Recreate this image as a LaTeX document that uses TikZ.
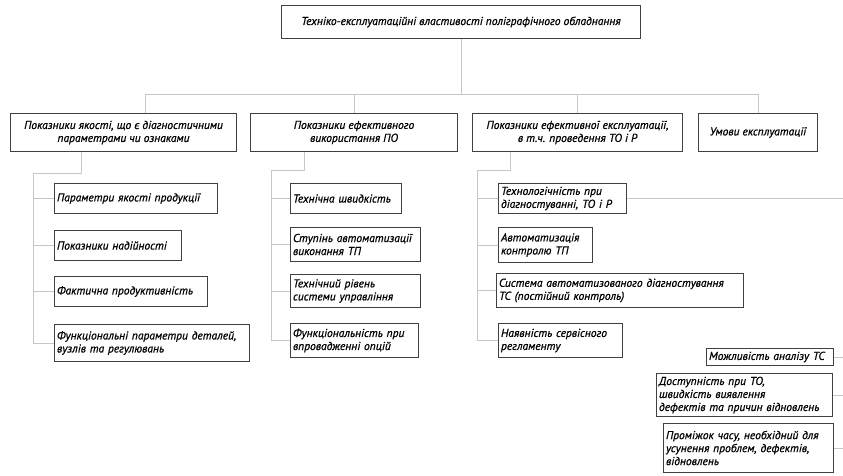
\documentclass[tikz,border=0pt]{standalone}
\usepackage{fontspec}
\setmainfont{PT Sans}[ItalicFeatures={FakeBold=0.8}]
\usepackage{tikz}
\usetikzlibrary{positioning}

\tikzset{
    blk/.style={draw=black!75, line width=1pt, anchor=north west, inner xsep=2.5pt, inner ysep=1pt, font=\fontsize{11.5}{13}\selectfont\itshape},
    grp/.style={blk, align=center},
    leaf/.style={blk, align=left},
    link/.style={draw=black!22, line width=.6pt}
}

\begin{document}
\begin{tikzpicture}[x=1pt, y=-1pt]
            \useasboundingbox (0,0) rectangle (843,475);
            \node [grp, minimum width=359pt, minimum height=33pt] (top) at (281,5) {Техніко-експлуатаційні властивості поліграфічного обладнання};
            % рівень 1
            \node [grp, minimum width=226pt, minimum height=38pt] (g1) at (10,113) {Показники якості, що є діагностичними\\параметрами чи ознаками};
            \node [grp, minimum width=207pt, minimum height=38pt] (g2) at (250,113) {Показники ефективного\\використання ПО};
            \node [grp, minimum width=210pt, minimum height=38pt] (g3) at (472,113) {Показники ефективної експлуатації,\\в т.ч. проведення ТО і Р};
            \node [grp, minimum width=119pt, minimum height=38pt] (g4) at (698,113) {Умови експлуатації};
            % гілка 1
            \node [leaf, text width=158pt, minimum height=30pt] (c11) at (54,183) {Параметри якості продукції};
            \node [leaf, text width=122pt, minimum height=30pt] (c12) at (54,230) {Показники надійності};
            \node [leaf, text width=148pt, minimum height=30pt] (c13) at (54,276) {Фактична продуктивність};
            \node [leaf, text width=190pt, minimum height=37pt] (c14) at (54,324) {Функціональні параметри деталей,\\вузлів та регулювань};
            % гілка 2
            \node [leaf, text width=106pt, minimum height=30pt] (c21) at (290,183) {Технічна швидкість};
            \node [leaf, text width=125pt, minimum height=34pt] (c22) at (290,227) {Ступінь автоматизації\\виконання ТП};
            \node [leaf, text width=125pt, minimum height=33pt] (c23) at (290,274) {Технічний рівень\\системи управління};
            \node [leaf, text width=123pt, minimum height=34pt] (c24) at (290,323) {Функціональність при\\впровадженні опцій};
            % гілка 3
            \node [leaf, text width=123pt, minimum height=30pt] (c31) at (498,183) {Технологічність при\\діагностуванні, ТО і Р};
            \node [leaf, text width=89pt, minimum height=35pt] (c32) at (498,227) {Автоматизація\\контролю ТП};
            \node [leaf, text width=242pt, minimum height=34pt] (c33) at (496,273) {Система автоматизованого діагностування\\ТС (постійний контроль)};
            \node [leaf, text width=119pt, minimum height=34pt] (c34) at (498,323) {Наявність сервісного\\регламенту};
            % праворуч унизу
            \node [leaf, text width=122pt, minimum height=17pt] (d1) at (706,348) {Можливість аналізу ТС};
            \node [leaf, text width=171pt, minimum height=43pt] (d2) at (656,373) {Доступність при ТО,\\швидкість виявлення\\дефектів та причин відновлень};
            \node [leaf, text width=165pt, minimum height=49pt] (d3) at (663,423) {Проміжок часу, необхідний для\\усунення проблем, дефектів,\\відновлень};
            % шина
            \coordinate (busL) at (145,94);
            \coordinate (edge) at (843,0);
            \draw [link] (top.south) -- (top.south |- busL);
            \draw [link] (busL) -- (g4.north |- busL);
            \draw [link] (busL) -- (g1.north -| busL);
            \foreach \g in {g2,g3,g4}
                \draw [link] (\g.north |- busL) -- (\g.north);
            % стовбури
            \coordinate (t1) at (33,173);
            \coordinate (t2) at (271,170);
            \coordinate (t3) at (477,170);
            \draw [link] ([xshift=-42pt]g1.south) |- (t1) -- (t1 |- c14.west);
            \draw [link] ([xshift=-50pt]g2.south) |- (t2) -- (t2 |- c24.west);
            \draw [link] ([xshift=-67pt]g3.south) |- (t3) -- (t3 |- c34.west);
            \foreach \c in {c11,c12,c13,c14}
                \draw [link] (t1 |- \c.west) -- (\c.west);
            \foreach \c in {c21,c22,c23,c24}
                \draw [link] (t2 |- \c.west) -- (\c.west);
            \foreach \c in {c31,c32,c33,c34}
                \draw [link] (t3 |- \c.west) -- (\c.west);
            \foreach \c in {c31,d1,d2,d3}
                \draw [link] (\c.east) -- (\c.east -| edge);
\end{tikzpicture}
\end{document}
